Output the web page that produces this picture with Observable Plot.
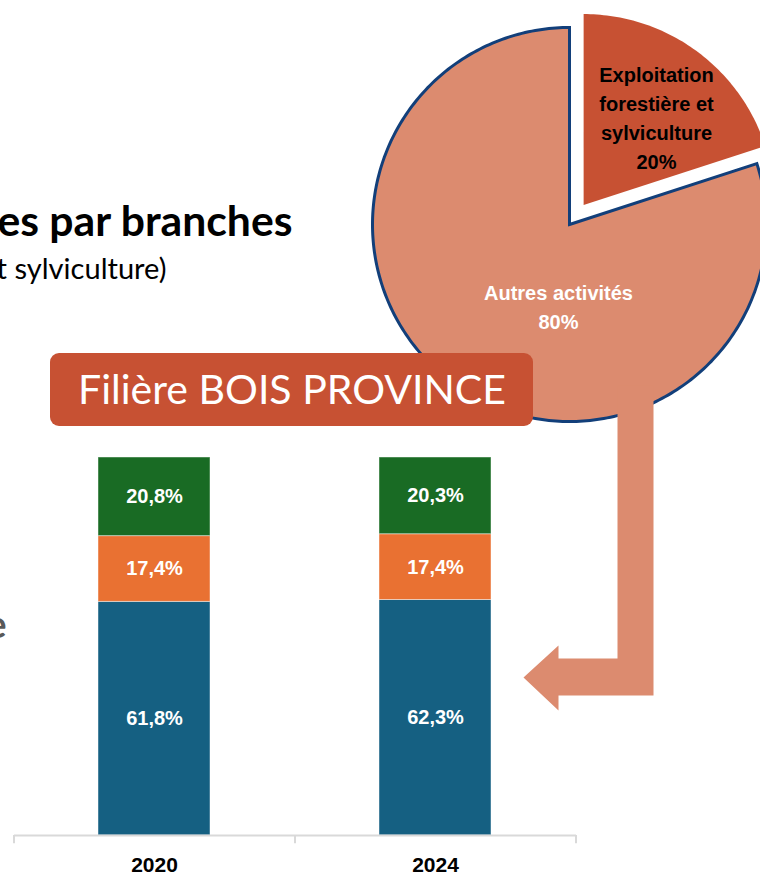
<!DOCTYPE html>
<html><head><meta charset="utf-8">
<script src="https://cdn.jsdelivr.net/npm/d3@7"></script>
<script src="https://cdn.jsdelivr.net/npm/@observablehq/plot@0.6"></script>
<style>
html,body{margin:0;padding:0;background:#fff;}
#chart{position:relative;width:760px;height:875px;overflow:hidden;background:#fff;}
#chart > svg{position:absolute;left:0;top:0;}
</style></head><body><div id="chart"></div>
<script>
// ---------- data ----------
const years = ["2020", "2024"];
const branches = ["Branche 1", "Branche 2", "Branche 3"]; // bottom -> top
const branchColors = ["#156082", "#E97132", "#196B24"];
const values2020 = [61.8, 17.4, 20.8];
const values2024 = [62.3, 17.4, 20.3];
const pieLabels = ["Exploitation\nforestière et\nsylviculture", "Autres activités"];
const pieValues = [20, 80];
const pieColors = ["#C75133", "#DC8B6F"];
const pieLabelColors = ["#000000", "#FFFFFF"];
const bannerText = "Filière BOIS PROVINCE";
const titleText = "es par branches";
const subtitleText = "t sylviculture)";
const sideText = "e";

// ---------- layout ----------
const W = 760, H = 875;
const sans = "'Liberation Sans', Arial, sans-serif";
const calibri = "Lato, 'Open Sans', sans-serif";
const pieCenter = [569, 224], pieRadius = 197, explodeDist = 24, explodeRadius = 191;
const pieLabelPos = [[656, 115.5], [558, 304.5]];
const banner = {x1: 50, x2: 533, y1: 353, y2: 426};
const arrowPts = [[617,385],[653,385],[653,695],[558,695],[558,710],[523,677],[558,645],[558,658],[617,658]].map(([x,y]) => ({x, y}));
const fmt = v => v.toFixed(1).replace(".", ",") + "%";

function fitSize(text, weight, family, target) {
  const ctx = document.createElement("canvas").getContext("2d");
  ctx.font = `${weight} 100px ${family}`;
  return 100 * target / ctx.measureText(text).width;
}

// pie polygons from values
const arcs = d3.pie().sort(null)(pieValues);
const piePts = arcs.flatMap((a, i) => {
  const exploded = i === 0;
  const mid = (a.startAngle + a.endAngle) / 2;
  const cx = pieCenter[0] + (exploded ? explodeDist * Math.sin(mid) : 0);
  const cy = pieCenter[1] - (exploded ? explodeDist * Math.cos(mid) : 0);
  const r = exploded ? explodeRadius : pieRadius;
  const n = Math.ceil((a.endAngle - a.startAngle) / (Math.PI / 180));
  const pts = [{slice: i, x: cx, y: cy}];
  for (let k = 0; k <= n; k++) {
    const t = a.startAngle + (a.endAngle - a.startAngle) * k / n;
    pts.push({slice: i, x: cx + r * Math.sin(t), y: cy - r * Math.cos(t)});
  }
  return pts;
});
const pieText = pieValues.map((v, i) => ({text: pieLabels[i] + "\n" + v + "%", x: pieLabelPos[i][0], y: pieLabelPos[i][1], color: pieLabelColors[i]}));

const titleSize = fitSize(titleText, "bold", calibri, 296);
const subSize = fitSize(subtitleText, "normal", calibri, 170);
const bannerSize = fitSize(bannerText, "normal", calibri, 428);

const layout = Plot.plot({
  width: W, height: H, margin: 0,
  x: {type: "linear", domain: [0, W], range: [0, W], axis: null},
  y: {type: "linear", domain: [0, H], range: [0, H], axis: null},
  style: {background: "transparent", overflow: "hidden"},
  marks: [
    Plot.line(piePts.filter(d => d.slice === 1), {x: "x", y: "y", curve: "linear-closed", fill: pieColors[1], stroke: "#123F7A", strokeWidth: 3, strokeLinejoin: "miter", strokeMiterlimit: 10}),
    Plot.line(piePts.filter(d => d.slice === 0), {x: "x", y: "y", curve: "linear-closed", fill: pieColors[0], stroke: "none"}),
    Plot.line(arrowPts, {x: "x", y: "y", curve: "linear-closed", fill: pieColors[1], stroke: "none"}),
    Plot.rect([banner], {x1: "x1", x2: "x2", y1: "y1", y2: "y2", rx: 9, fill: pieColors[0]}),
    Plot.text([bannerText], {x: (banner.x1 + banner.x2) / 2, y: 390, text: d => d, fill: "white", fontSize: bannerSize, fontFamily: calibri}),
    Plot.text(pieText.slice(0, 1), {x: "x", y: "y", text: "text", fill: pieLabelColors[0], fontSize: 20, fontWeight: "bold", fontFamily: sans, lineHeight: 1.45}),
    Plot.text(pieText.slice(1), {x: "x", y: "y", text: "text", fill: pieLabelColors[1], fontSize: 20, fontWeight: "bold", fontFamily: sans, lineHeight: 1.45}),
    Plot.text([titleText], {x: 292, y: 235, text: d => d, textAnchor: "end", lineAnchor: "bottom", fill: "#000", fontSize: titleSize, fontWeight: "bold", fontFamily: calibri}),
    Plot.text([subtitleText], {x: 166, y: 278, text: d => d, textAnchor: "end", lineAnchor: "bottom", fill: "#000", fontSize: subSize, fontFamily: calibri}),
    Plot.text([sideText], {x: 6, y: 637, text: d => d, textAnchor: "end", lineAnchor: "bottom", fill: "#595959", fontSize: 38, fontWeight: "bold", fontFamily: calibri})
  ]
});
document.getElementById("chart").append(layout);

// ---------- stacked bars ----------
const barData = years.flatMap((yr, i) => {
  const vals = [values2020, values2024][i];
  return branches.map((b, j) => ({year: yr, branch: b, value: vals[j]}));
});

const bars = Plot.plot({
  width: W, height: H,
  marginLeft: 14, marginRight: 184, marginTop: 457, marginBottom: 40,
  x: {domain: years, paddingInner: 0.6, paddingOuter: 0.3, axis: null},
  y: {domain: [0, 100], axis: null},
  color: {domain: branches, range: branchColors},
  style: {background: "transparent", overflow: "visible"},
  marks: [
    Plot.barY(barData, {x: "year", y: "value", fill: "branch", stroke: "white", strokeOpacity: 0.45, strokeWidth: 1}),
    Plot.text(barData, Plot.stackY({x: "year", y: "value", text: d => fmt(d.value), fill: "white", fontSize: 20, fontWeight: "bold", fontFamily: sans})),
    Plot.ruleY([0], {stroke: "#D9D9D9", strokeWidth: 2}),
    Plot.ruleX(years.slice(0, 1), {x: d => d, dx: -140.5, y1: 0, y2: -2.2, stroke: "#D9D9D9", strokeWidth: 2}),
    Plot.ruleX(years, {x: d => d, dx: 140.5, y1: 0, y2: -2.2, stroke: "#D9D9D9", strokeWidth: 2}),
    Plot.text(years, {x: d => d, y: 0, dy: 30, text: d => d, fill: "#000", fontSize: 21, fontWeight: "bold", fontFamily: sans})
  ]
});
document.getElementById("chart").append(bars);
</script>
</body></html>
